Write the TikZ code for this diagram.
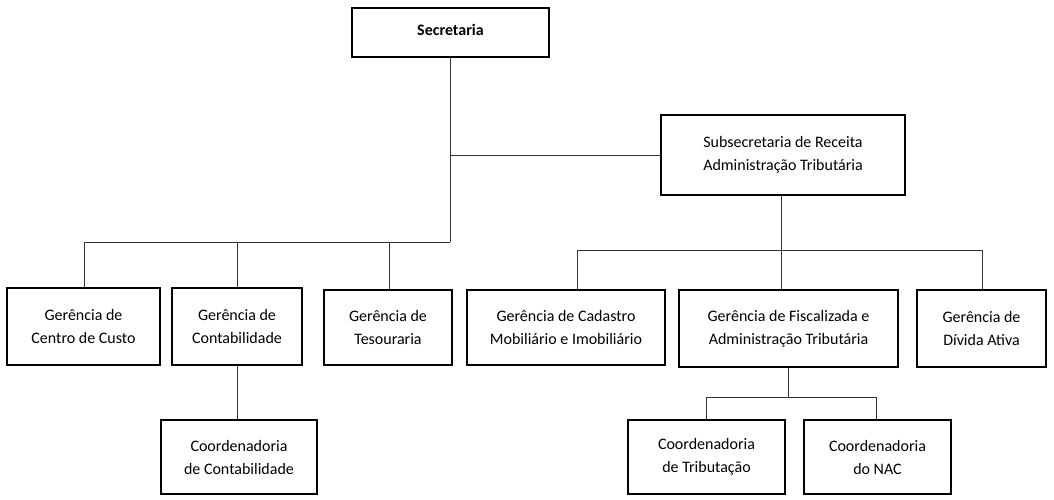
\documentclass[tikz,border=0pt]{standalone}
\usepackage{fontspec}
\setmainfont{Carlito}
\begin{document}
\begin{tikzpicture}[x=1pt,y=-1pt,
  box/.style={draw,line width=1.4pt,align=center,font=\fontsize{16}{23}\selectfont,inner sep=0pt},
  ln/.style={line width=0.9pt,draw=black!80}]
\useasboundingbox (0,0) rectangle (1054,499);
\newcommand{\bx}[6]{\node[box,minimum width=#4-#2,minimum height=#5-#3] (#1) at ({(#2+#4)/2},{(#3+#5)/2}) {#6};}
\bx{sec}{352}{8}{549}{57}{\raisebox{6pt}{\textbf{Secretaria}}}
\bx{sub}{661}{115}{905}{195}{Subsecretaria de Receita\\Administração Tributária}
\bx{cc}{7}{288}{160}{365}{Gerência de\\Centro de Custo}
\bx{cont}{172}{288}{302}{365}{Gerência de\\Contabilidade}
\bx{tes}{324}{290}{452}{365}{Gerência de\\Tesouraria}
\bx{cad}{467}{290}{665}{365}{Gerência de Cadastro\\Mobiliário e Imobiliário}
\bx{fis}{679}{290}{898}{367}{Gerência de Fiscalizada e\\Administração Tributária}
\bx{div}{917}{290}{1046}{367}{Gerência de\\Dívida Ativa}
\bx{ccont}{161}{420}{317}{494}{Coordenadoria\\de Contabilidade}
\bx{ctrib}{628}{420}{785}{494}{Coordenadoria\\de Tributação}
\bx{cnac}{804}{420}{951}{494}{Coordenadoria\\do NAC}
\coordinate (a) at (450,242);
\coordinate (b) at (781,250);
\coordinate (c) at (788,397);
\draw[ln] (sec.south -| a) -- (a);
\draw[ln] (450,155) -- (sub.west);
\draw[ln] (a) -- (84,242) -- (84,242 |- cc.north);
\draw[ln] (237,242) -- (237,242 |- cont.north);
\draw[ln] (389,242) -- (389,242 |- tes.north);
\draw[ln] (sub.south -| b) -- (b);
\draw[ln] (577,250 |- cad.north) -- (577,250) -- (982,250) -- (982,250 |- div.north);
\draw[ln] (b) -- (b |- fis.north);
\draw[ln] (cont.south -| 237,0) -- (237,0 |- ccont.north);
\draw[ln] (fis.south -| c) -- (c);
\draw[ln] (706,0 |- ctrib.north) -- (706,397) -- (876,397) -- (876,0 |- cnac.north);
\end{tikzpicture}
\end{document}
